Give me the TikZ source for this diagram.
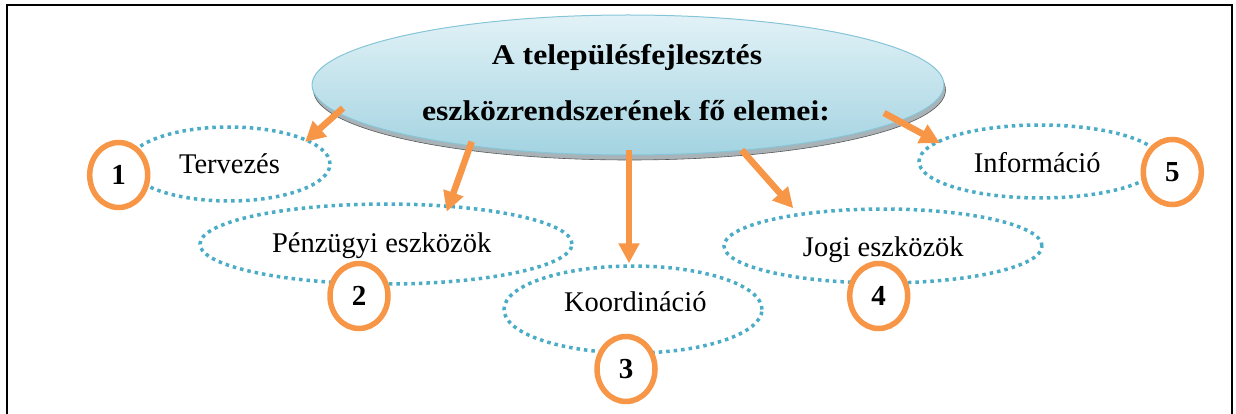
\documentclass[tikz,border=0pt]{standalone}
\usepackage{fontspec}
\setmainfont{Liberation Serif}
\usetikzlibrary{shapes.geometric,arrows.meta}
\definecolor{dotblue}{HTML}{4BACC6}
\definecolor{orng}{HTML}{F79646}
\definecolor{skytop}{HTML}{E2F2F7}
\definecolor{skybot}{HTML}{A3D3E1}
\definecolor{skyrim}{HTML}{86C5D7}
\definecolor{shadegray}{HTML}{A9B3B7}
\begin{document}
\begin{tikzpicture}[x=1pt,y=-1pt,
  dotell/.style={ellipse,draw=dotblue,line width=3.5pt,dash pattern=on 3.5pt off 4pt,inner sep=0pt},
  numcirc/.style={ellipse,draw=orng,fill=white,line width=5.5pt,inner sep=0pt,minimum width=58pt,minimum height=65pt,font=\fontsize{29}{30}\selectfont\bfseries},
  lbl/.style={anchor=base,inner sep=0pt,font=\fontsize{28.5}{34}\selectfont},
  ttl/.style={anchor=base,inner sep=0pt,font=\fontsize{31.7}{36}\selectfont\bfseries},
  arr/.style={draw=orng,line width=6.5pt,-{Triangle[width=20pt,length=20pt]}},
  frame/.style={line width=2.5pt,draw=black}]
\useasboundingbox (0,0) rectangle (1236,414);
% frame
\draw[frame] (7,414) -- (7,5) -- (1232,5) -- (1232,414);
% main ellipse with 3D shadow
\node[ellipse,fill=shadegray,draw=gray!70!black,line width=0.6pt,minimum width=632pt,minimum height=140pt,inner sep=0pt] (mainshadow) at (629.5,90) {};
\node[ellipse,top color=skytop,bottom color=skybot,draw=skyrim,line width=1pt,minimum width=632pt,minimum height=140pt,inner sep=0pt] (main) at (628,85) {};
\node[ttl] (title1) at (627,65) {\scalebox{1}[0.9]{A településfejlesztés}};
\node[ttl] (title2) at (626,120.7) {\scalebox{1}[0.9]{eszközrendszerének fő elemei:}};
% dotted ellipses
\node[dotell,minimum width=202pt,minimum height=74pt] (e1) at (229,164) {};
\node[dotell,minimum width=372pt,minimum height=80pt] (e2) at (386,244) {};
\node[dotell,minimum width=258pt,minimum height=87pt] (e3) at (633,309.5) {};
\node[dotell,minimum width=318pt,minimum height=74pt] (e4) at (883,246) {};
\node[dotell,minimum width=242pt,minimum height=73pt] (e5) at (1040,161.5) {};
% labels
\node[lbl] (l1) at (229.5,173.3) {Tervezés};
\node[lbl] (l2) at (381.7,252) {Pénzügyi eszközök};
\node[lbl] (l3) at (635.3,311.7) {Koordináció};
\node[lbl] (l4) at (883.3,256) {Jogi eszközök};
\node[lbl] (l5) at (1037.2,172.7) {Információ};
% numbered circles
\node[numcirc] (c1) at (118.7,175) {1};
\node[numcirc] (c2) at (359,296) {2};
\node[numcirc] (c3) at (626,369) {3};
\node[numcirc] (c4) at (878.7,296) {4};
\node[numcirc] (c5) at (1172.3,172) {5};
% arrows
\coordinate (a1s) at (343,108);
\coordinate (a1e) at (305,142);
\coordinate (a2s) at (471.7,141.7);
\coordinate (a2e) at (446.7,211.7);
\coordinate (a3s) at (629,150);
\coordinate (a3e) at (629,263.3);
\coordinate (a4s) at (741.7,150);
\coordinate (a4e) at (793.3,208.3);
\coordinate (a5s) at (884,113);
\coordinate (a5e) at (940,143.3);
\draw[arr] (a1s) -- (a1e);
\draw[arr] (a2s) -- (a2e);
\draw[arr] (a3s) -- (a3e);
\draw[arr] (a4s) -- (a4e);
\draw[arr] (a5s) -- (a5e);
\end{tikzpicture}
\end{document}
